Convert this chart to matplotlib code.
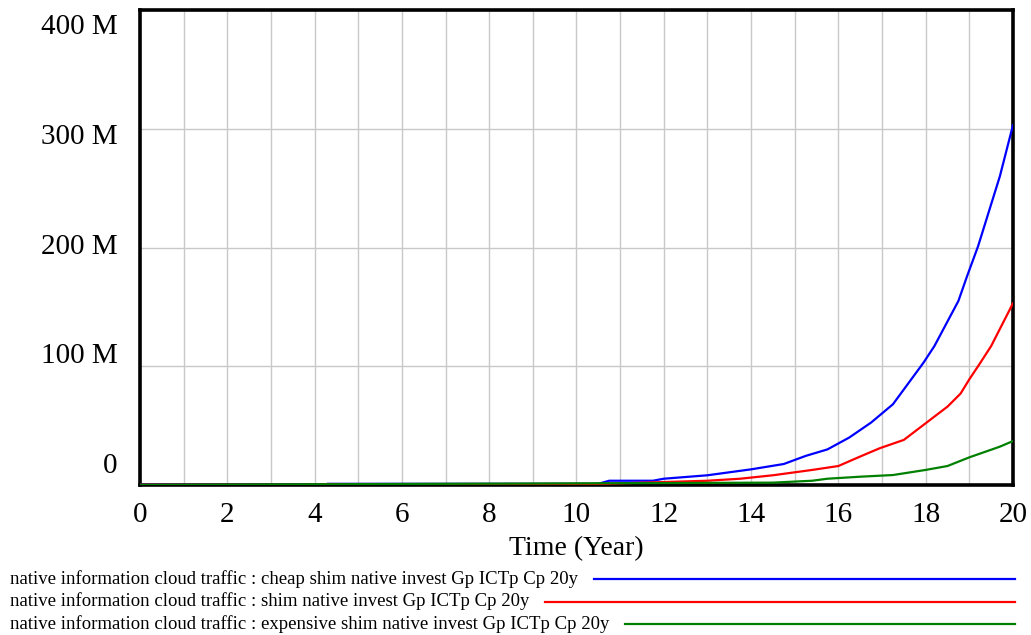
import matplotlib
matplotlib.use("Agg")
import matplotlib.pyplot as plt
import numpy as np

plt.rcParams['font.family'] = ['Liberation Serif', 'DejaVu Serif']

# simulation output, millions of units per year
t_cheap = [0, 4.2, 4.3, 10.5, 10.75, 11.75, 12, 13, 14, 14.75, 15.25, 15.75, 16.25,
           16.75, 17.25, 17.65, 17.95, 18.2, 18.75, 18.95, 19.2, 19.7, 20]
v_cheap = [0.3, 0.3, 1.0, 1.0, 3.6, 3.6, 5.3, 8.2, 13.2, 17.7, 24.5, 30, 40,
           52.6, 68, 88, 103, 117, 155, 176, 201, 260, 303]

t_base = [0, 4.2, 4.3, 10.5, 11, 12, 13, 13.75, 14.5, 15.4, 16, 16.5, 16.95, 17.5,
          18, 18.5, 18.8, 19, 19.2, 19.5, 20]
v_base = [0.2, 0.2, 0.8, 0.8, 1.4, 2.5, 3.6, 5.3, 8.2, 12.7, 16, 24, 31, 38,
          52, 66, 77, 89, 100, 117, 153]

t_exp = [0, 14.5, 15.4, 15.75, 16.5, 17.25, 18, 18.5, 19, 19.7, 20]
v_exp = [0.1, 2, 3.6, 5.3, 7, 8.4, 12.7, 16, 23.3, 32.3, 37]

series = [
    ("native information cloud traffic : cheap shim native invest Gp ICTp Cp 20y", t_cheap, v_cheap, "#0000ff"),
    ("native information cloud traffic : shim native invest Gp ICTp Cp 20y", t_base, v_base, "#ff0000"),
    ("native information cloud traffic : expensive shim native invest Gp ICTp Cp 20y", t_exp, v_exp, "#008000"),
]

y_labels = ["0", "100 M", "200 M", "300 M", "400 M"]

fig = plt.figure(figsize=(10.31, 6.35), dpi=100)
ax = fig.add_axes([0.1358, 0.2362, 0.8467, 0.748])

for name, t, v, c in series:
    ax.plot(t, np.array(v) * 1e6, color=c, lw=1.6, zorder=3)

ax.set_xlim(0, 20)
ax.set_ylim(0, 400e6)
ax.set_xticks(np.arange(0, 21, 1))
ax.set_xticklabels([str(i) if i % 2 == 0 else "" for i in range(21)], fontsize=21)
ax.set_yticks([0, 100e6, 200e6, 300e6, 400e6])
ax.set_yticklabels([])
ax.tick_params(axis='both', length=0)
ax.tick_params(axis='x', pad=12)
ax.grid(True, color="#c8c8c8", lw=1)
for s in ax.spines.values():
    s.set_linewidth(2.6)
    s.set_color("black")

# vensim-style value labels, spread evenly beside the axis
for i, lab in enumerate(y_labels):
    ax.text(-0.026, 0.04 + i * 0.231, lab, transform=ax.transAxes,
            ha='right', va='center', fontsize=21)

ax.set_xlabel("Time (Year)", fontsize=20, labelpad=6)

# legend rows below the plot: label then a line to the right edge
fig.canvas.draw()
renderer = fig.canvas.get_renderer()
for k, (name, t, v, c) in enumerate(series):
    y = 1 - (579 + k * 22.5) / 635
    txt = fig.text(10 / 1031, y, name, ha='left', va='center', fontsize=13.5)
    bb = txt.get_window_extent(renderer)
    x0 = bb.x1 / fig.bbox.width + 16 / 1031
    fig.add_artist(plt.Line2D([x0, 1015 / 1031], [y, y], color=c, lw=1.6))

fig.savefig("out.png", dpi=100)
